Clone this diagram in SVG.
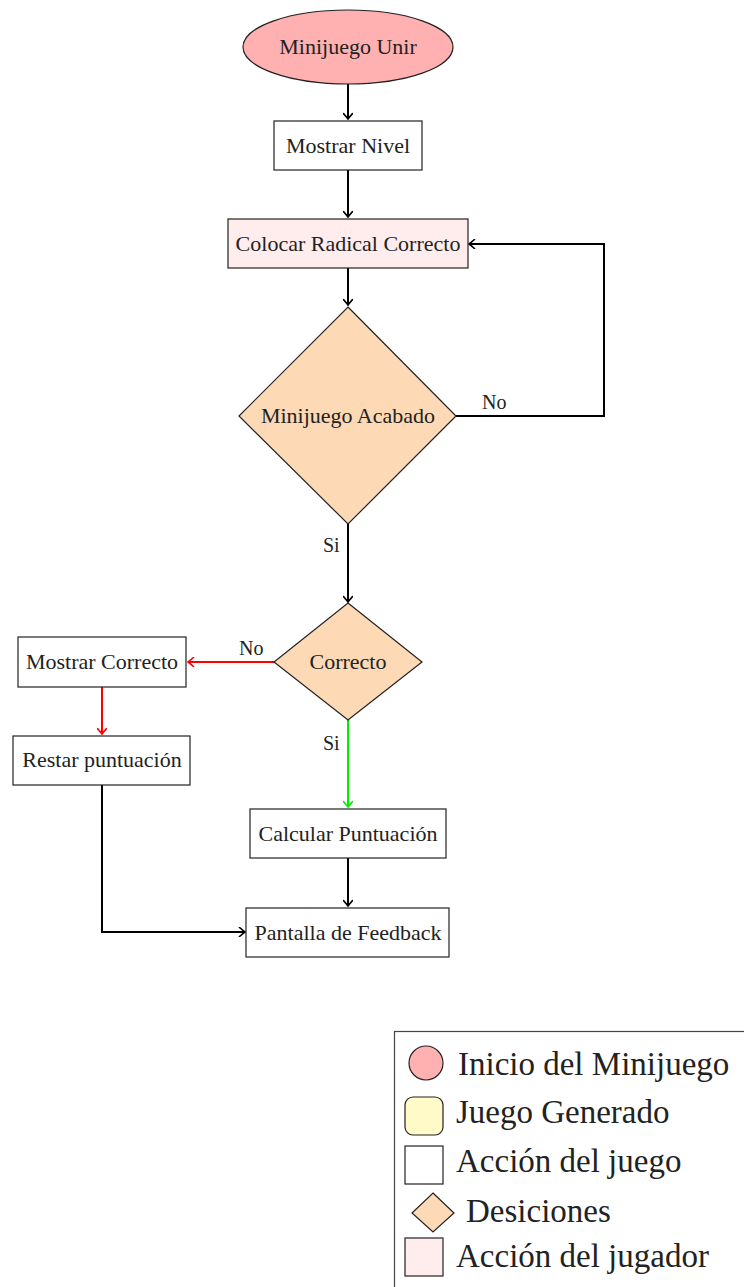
<svg xmlns="http://www.w3.org/2000/svg" width="744" height="1287" viewBox="0 0 744 1287">
<style>
text{font-family:"Liberation Serif","Times New Roman",serif;fill:#222;}
.t{font-size:22px;text-anchor:middle;}
.lbl{font-size:20px;}
.lg{font-size:33px;}
.box{stroke:#222;stroke-width:1.2;}
.c{fill:none;stroke-width:2;}
</style>
<defs>
<marker id="ak" viewBox="-7 -5 8 10" refX="0" refY="0" markerWidth="8" markerHeight="10" markerUnits="userSpaceOnUse" orient="auto"><path d="M-5.5,-4.5 Q-1.5,-1 0,0 Q-1.5,1 -5.5,4.5" fill="none" stroke="#000" stroke-width="1.6" stroke-linecap="round"/></marker>
<marker id="ar" viewBox="-7 -5 8 10" refX="0" refY="0" markerWidth="8" markerHeight="10" markerUnits="userSpaceOnUse" orient="auto"><path d="M-5.5,-4.5 Q-1.5,-1 0,0 Q-1.5,1 -5.5,4.5" fill="none" stroke="#ff0000" stroke-width="1.6" stroke-linecap="round"/></marker>
<marker id="ag" viewBox="-7 -5 8 10" refX="0" refY="0" markerWidth="8" markerHeight="10" markerUnits="userSpaceOnUse" orient="auto"><path d="M-5.5,-4.5 Q-1.5,-1 0,0 Q-1.5,1 -5.5,4.5" fill="none" stroke="#00ee00" stroke-width="1.6" stroke-linecap="round"/></marker>
</defs>
<rect width="744" height="1287" fill="#fff"/>

<g id="connectors">
<path class="c" stroke="#000" d="M348,84 V119" marker-end="url(#ak)"/>
<path class="c" stroke="#000" d="M348,170 V217" marker-end="url(#ak)"/>
<path class="c" stroke="#000" d="M348,268 V305" marker-end="url(#ak)"/>
<path class="c" stroke="#000" d="M456,416 H604 V244 H469" marker-end="url(#ak)"/>
<path class="c" stroke="#000" d="M348,524 V602" marker-end="url(#ak)"/>
<path class="c" stroke="#ff0000" d="M274,662 H188" marker-end="url(#ar)"/>
<path class="c" stroke="#ff0000" d="M102,687 V734" marker-end="url(#ar)"/>
<path class="c" stroke="#00ee00" d="M348,720 V807" marker-end="url(#ag)"/>
<path class="c" stroke="#000" d="M348,858 V906" marker-end="url(#ak)"/>
<path class="c" stroke="#000" d="M102,785 V932 H245" marker-end="url(#ak)"/>
<text class="lbl" x="482" y="409">No</text>
<text class="lbl" x="323" y="552">Si</text>
<text class="lbl" x="239" y="655">No</text>
<text class="lbl" x="323" y="750">Si</text>
</g>

<g id="start">
<ellipse class="box" cx="348" cy="47" rx="105" ry="37" fill="#ffb0b0"/>
<text class="t" x="348" y="54">Minijuego Unir</text>
</g>
<g id="mostrar-nivel">
<rect class="box" x="274" y="121" width="148" height="49" fill="#fff"/>
<text class="t" x="348" y="153">Mostrar Nivel</text>
</g>
<g id="colocar">
<rect class="box" x="228" y="219" width="240" height="49" fill="#ffecec"/>
<text class="t" x="348" y="251">Colocar Radical Correcto</text>
</g>
<g id="acabado">
<polygon class="box" points="348,307 456,416 348,524 239,416" fill="#fdd9b5"/>
<text class="t" x="348" y="423">Minijuego Acabado</text>
</g>
<g id="correcto">
<polygon class="box" points="348,603 422,662 348,720 274,662" fill="#fdd9b5"/>
<text class="t" x="348" y="669">Correcto</text>
</g>
<g id="mostrar-correcto">
<rect class="box" x="18" y="637" width="168" height="50" fill="#fff"/>
<text class="t" x="102" y="669">Mostrar Correcto</text>
</g>
<g id="restar">
<rect class="box" x="13" y="736" width="177" height="49" fill="#fff"/>
<text class="t" x="102" y="767">Restar puntuación</text>
</g>
<g id="calcular">
<rect class="box" x="250" y="809" width="196" height="49" fill="#fff"/>
<text class="t" x="348" y="841">Calcular Puntuación</text>
</g>
<g id="feedback">
<rect class="box" x="246" y="908" width="203" height="49" fill="#fff"/>
<text class="t" x="348" y="940">Pantalla de Feedback</text>
</g>

<g id="legend">
<rect x="394.5" y="1031.5" width="400" height="300" fill="#fff" stroke="#444" stroke-width="1.2"/>
<circle class="box" cx="426" cy="1063" r="17" fill="#ffb0b0"/>
<text class="lg" x="458" y="1075">Inicio del Minijuego</text>
<rect class="box" x="405" y="1097" width="38" height="38" rx="8" fill="#fffac8"/>
<text class="lg" x="456" y="1123">Juego Generado</text>
<rect class="box" x="405" y="1146" width="38" height="38" fill="#fff"/>
<text class="lg" x="456" y="1172">Acción del juego</text>
<polygon class="box" points="433,1193 454,1213 433,1232 412,1213" fill="#fdd9b5"/>
<text class="lg" x="466" y="1222">Desiciones</text>
<rect class="box" x="405" y="1238" width="38" height="38" fill="#ffecec"/>
<text class="lg" x="456" y="1267">Acción del jugador</text>
</g>
</svg>
